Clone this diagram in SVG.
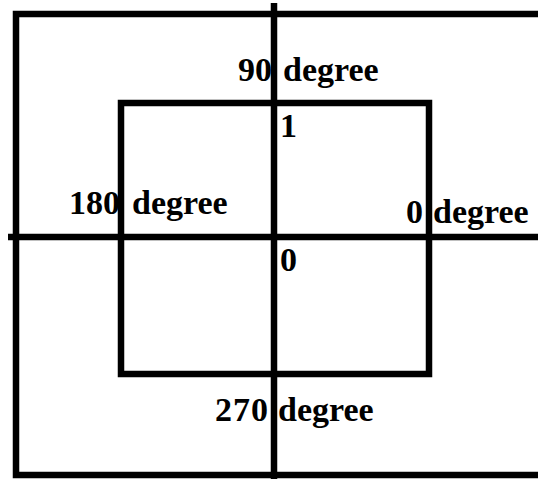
<svg xmlns="http://www.w3.org/2000/svg" width="538" height="479" viewBox="0 0 538 479">
<style>
.ln{fill:none;stroke:#000;stroke-width:6.5}
.t{font-family:"Liberation Serif","Times New Roman",serif;font-weight:bold;font-size:34px;fill:#000}
</style>
<rect width="538" height="479" fill="#fff"/>
<g id="outer"><rect class="ln" x="16" y="14" width="532" height="461"/></g>
<g id="inner"><rect class="ln" x="121" y="103" width="308" height="271"/></g>
<g id="connectors">
<line class="ln" x1="274" y1="3" x2="274" y2="479"/>
<line class="ln" x1="8" y1="237" x2="538" y2="237"/>
</g>
<g id="label-90"><text class="t" y="81"><tspan x="238">90</tspan><tspan x="283">degree</tspan></text></g>
<g id="label-1"><text class="t" x="280" y="137">1</text></g>
<g id="label-180"><text class="t" y="214"><tspan x="69">180</tspan><tspan x="132">degree</tspan></text></g>
<g id="label-0deg"><text class="t" y="223"><tspan x="406">0</tspan><tspan x="433">degree</tspan></text></g>
<g id="label-0"><text class="t" x="280" y="271">0</text></g>
<g id="label-270"><text class="t" y="421"><tspan x="215" letter-spacing="1">270</tspan><tspan x="278">degree</tspan></text></g>
</svg>
